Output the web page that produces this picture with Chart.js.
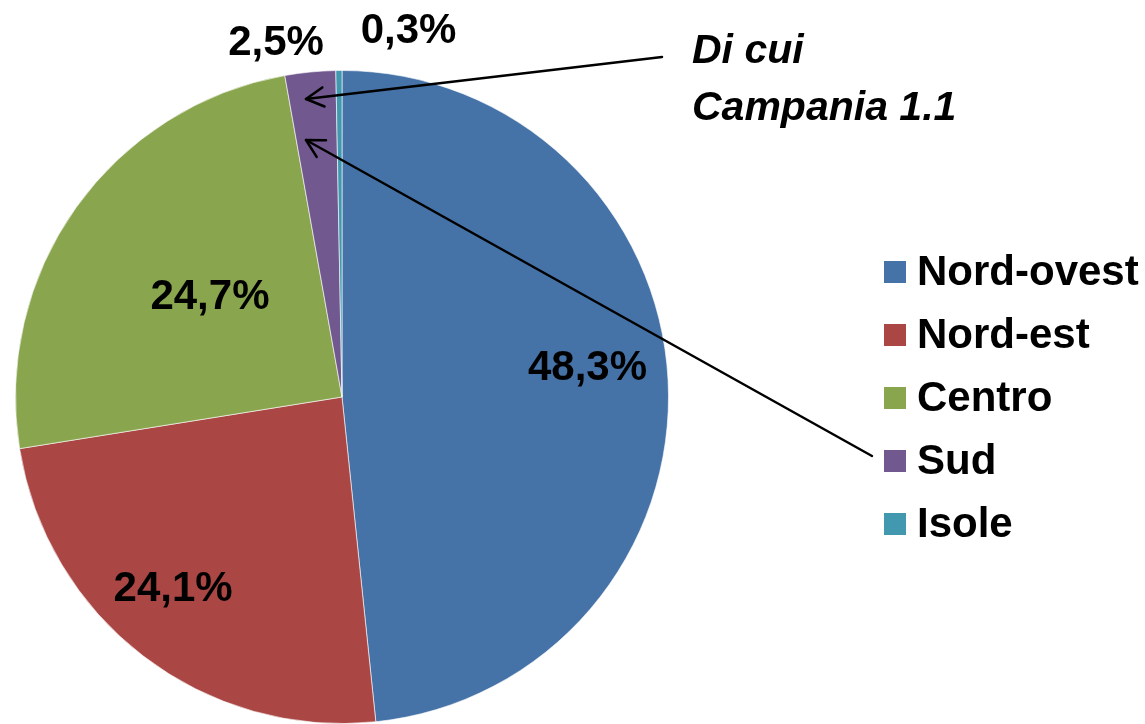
<!DOCTYPE html>
<html>
<head>
<meta charset="utf-8">
<script src="https://cdn.jsdelivr.net/npm/chart.js@4/dist/chart.umd.min.js"></script>
<style>
  html, body { margin: 0; padding: 0; background: #fff; }
  #wrap { width: 1145px; height: 724px; position: relative; }
</style>
</head>
<body>
<div id="wrap"><canvas id="canvas"></canvas></div>
<script>
// data
let regioni = ["Nord-ovest", "Nord-est", "Centro", "Sud", "Isole"];
let quote = [48.3, 24.1, 24.7, 2.5, 0.3];
let etichette = ["48,3%", "24,1%", "24,7%", "2,5%", "0,3%"];
let colori = ["#4572A7", "#AA4643", "#89A54E", "#71588F", "#4198AF"];

// where each % label sits: fraction of radius along the slice middle + small shift
let labelRadius = [0.753, 0.8, 0.5, 1.1, 1.13];
let labelShift = [[0, -19], [-10, -18], [1, -8], [-31, 0], [70, 0]];

let fontFam = '"Liberation Sans", Arial, sans-serif';

// percent labels on the slices
const etichettePlugin = {
  id: "etichette",
  afterDatasetsDraw(chart) {
    let ctx = chart.ctx;
    let meta = chart.getDatasetMeta(0);
    ctx.save();
    ctx.font = "bold 42px " + fontFam;
    ctx.fillStyle = "#000";
    ctx.textAlign = "center";
    ctx.textBaseline = "alphabetic";
    meta.data.forEach((arc, i) => {
      let p = arc.getProps(["x", "y", "startAngle", "endAngle", "outerRadius"], true);
      let mid = (p.startAngle + p.endAngle) / 2;
      let r = p.outerRadius * labelRadius[i];
      let x = p.x + Math.cos(mid) * r + labelShift[i][0];
      let y = p.y + Math.sin(mid) * r + labelShift[i][1];
      ctx.fillText(etichette[i], x, y + 15);
    });
    ctx.restore();
  },
};

// legend on the right
const legendaPlugin = {
  id: "legenda",
  afterDraw(chart) {
    let ctx = chart.ctx;
    ctx.save();
    ctx.font = "bold 42px " + fontFam;
    ctx.textBaseline = "alphabetic";
    ctx.textAlign = "left";
    regioni.forEach((nome, i) => {
      let cy = 272 + i * 63;
      ctx.fillStyle = colori[i];
      ctx.fillRect(884, cy - 11, 22, 22);
      ctx.fillStyle = "#000";
      ctx.fillText(nome, 917, cy + 13);
    });
    ctx.restore();
  },
};

function freccia(ctx, x1, y1, x2, y2) {
  ctx.beginPath();
  ctx.moveTo(x1, y1);
  ctx.lineTo(x2, y2);
  ctx.stroke();
  let a = Math.atan2(y2 - y1, x2 - x1);
  let len = 20;
  let spread = 0.5;
  ctx.beginPath();
  ctx.moveTo(x2 - len * Math.cos(a - spread), y2 - len * Math.sin(a - spread));
  ctx.lineTo(x2, y2);
  ctx.lineTo(x2 - len * Math.cos(a + spread), y2 - len * Math.sin(a + spread));
  ctx.stroke();
}

// "Di cui Campania 1.1" note with its two arrows
const notaPlugin = {
  id: "nota",
  afterDraw(chart) {
    let ctx = chart.ctx;
    ctx.save();
    ctx.strokeStyle = "#000";
    ctx.lineWidth = 2.5;
    ctx.lineCap = "round";
    ctx.lineJoin = "round";
    freccia(ctx, 662, 57, 306, 99);
    freccia(ctx, 872, 456, 306, 140);
    ctx.font = "italic bold 41px " + fontFam;
    ctx.fillStyle = "#000";
    ctx.textAlign = "left";
    ctx.fillText("Di cui", 692, 63);
    ctx.fillText("Campania 1.1", 692, 120);
    ctx.restore();
  },
};

let canvas = document.getElementById("canvas");
var chart = new Chart(canvas, {
  type: "pie",
  data: {
    labels: regioni,
    datasets: [
      {
        data: quote,
        backgroundColor: colori,
        borderColor: "rgba(255,255,255,0.6)",
        borderWidth: 1,
      },
    ],
  },
  options: {
    responsive: true,
    maintainAspectRatio: false,
    animation: false,
    layout: {
      padding: { left: 15, top: 70, right: 476, bottom: 0 },
    },
    plugins: {
      legend: { display: false },
      tooltip: { enabled: false },
    },
  },
  plugins: [etichettePlugin, legendaPlugin, notaPlugin],
});
</script>
</body>
</html>
